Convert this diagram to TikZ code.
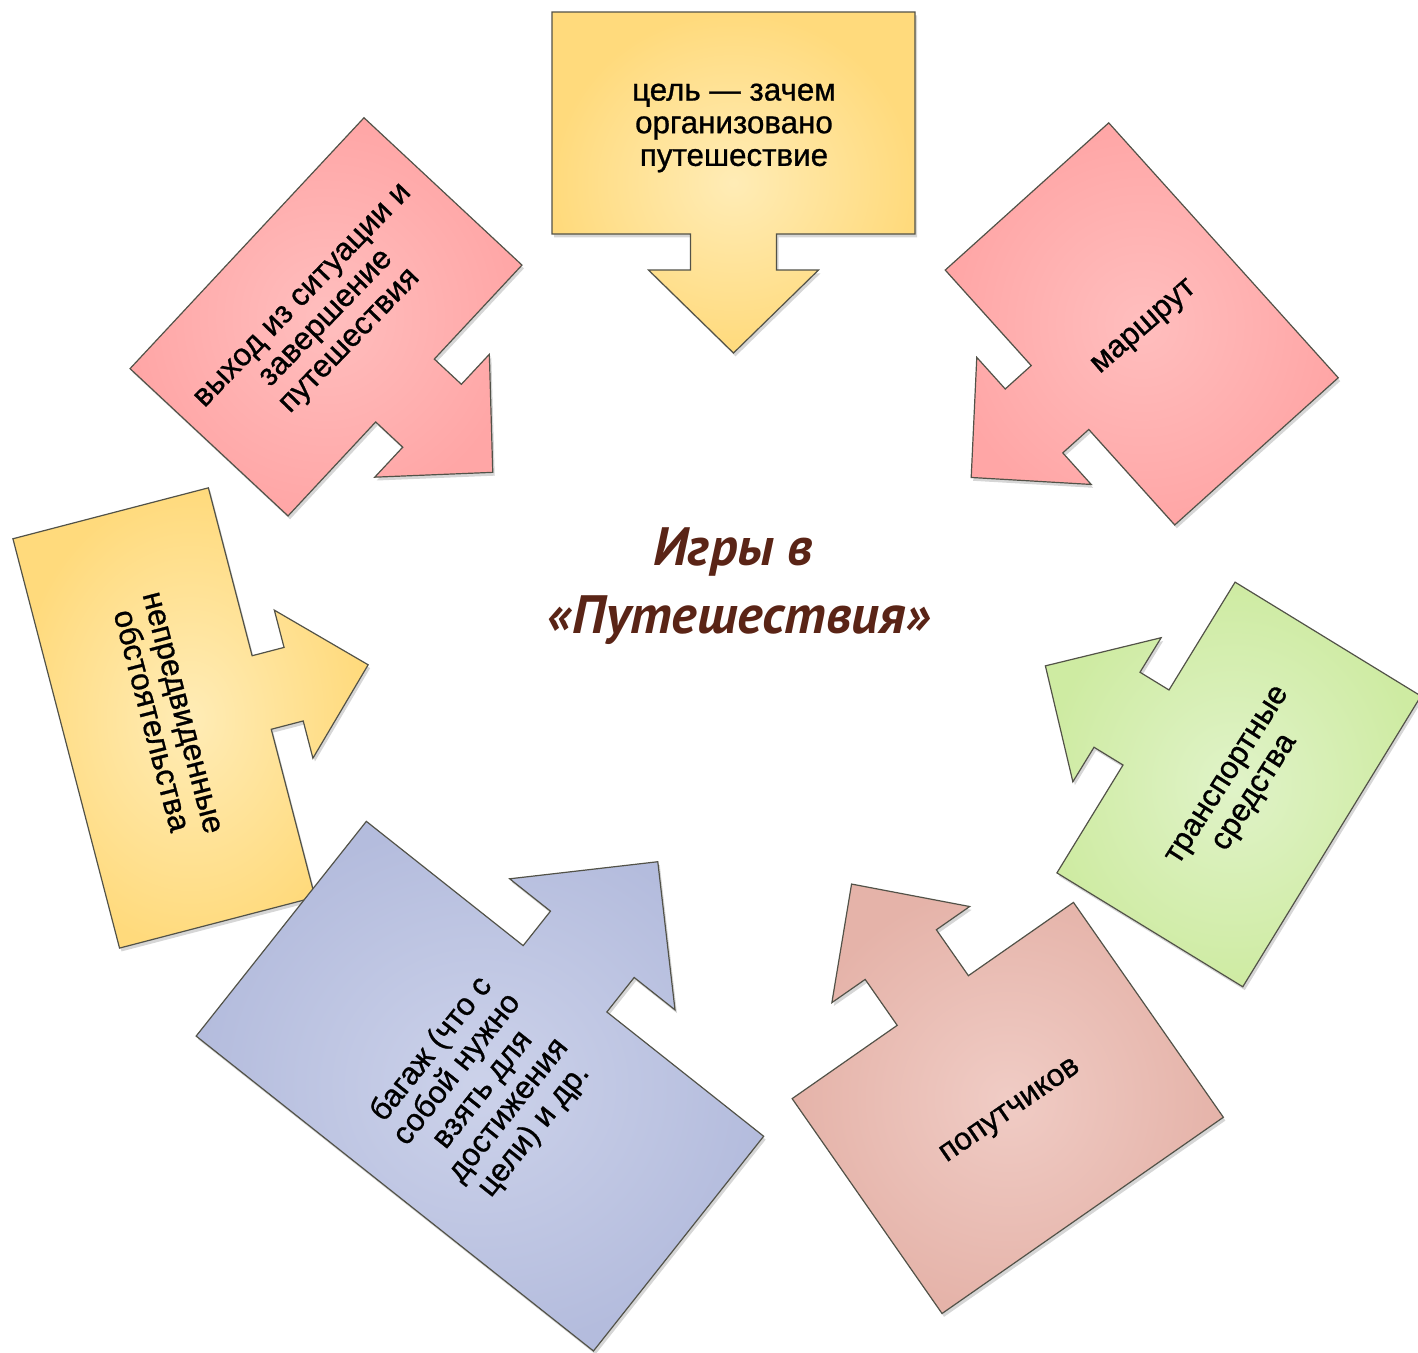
\documentclass[tikz,border=0pt]{standalone}
\usepackage{fontspec}
\setmainfont{Liberation Sans}
\newfontfamily\boxfont{Liberation Sans}[FakeBold=0.9]
\newfontfamily\titlefont{PT Sans}

\definecolor{yellowout}{RGB}{255,218,124}
\definecolor{yellowin}{RGB}{255,236,182}
\definecolor{pinkout}{RGB}{255,166,166}
\definecolor{pinkin}{RGB}{255,190,190}
\definecolor{greenout}{RGB}{206,235,162}
\definecolor{greenin}{RGB}{224,243,200}
\definecolor{blueout}{RGB}{180,188,221}
\definecolor{bluein}{RGB}{204,210,234}
\definecolor{roseout}{RGB}{229,179,169}
\definecolor{rosein}{RGB}{240,204,197}
\definecolor{titlebrown}{RGB}{90,36,22}

\tikzset{every picture/.style={line width=0.75pt}}
\tikzset{
  callout/.style={draw={rgb,255:red,82;green,82;blue,72}, line width=0.9pt, line join=miter,
    preaction={fill=black, fill opacity=0.16, draw=none, transform canvas={shift={(1.5pt,-2.5pt)}}}},
  boxtext/.style={align=center, inner sep=0pt, font=\boxfont\fontsize{23.5}{24.5}\selectfont},
  titletext/.style={anchor=base, inner sep=0pt, text=titlebrown, font=\titlefont\bfseries\itshape\fontsize{40.5}{44}\selectfont}
}

\begin{document}
\begin{tikzpicture}[x=0.75pt,y=0.75pt,yscale=-1,xscale=1]
%uncomment if require: \path (0,1353); %set diagram left start at 0, and has height of 1353
\useasboundingbox (0,0) rectangle (1418,1353);

%Shape: Down Arrow Callout [goal]
\begin{scope}[shift={(733.5,234)}, rotate=0]
\draw [callout, inner color=yellowin, outer color=yellowout] (-181.5,-222) -- (181.5,-222) -- (181.5,0) -- (43,0) -- (43,36) -- (85,36) -- (0,119) -- (-85,36) -- (-43,36) -- (-43,0) -- (-181.5,0) -- cycle ;
\end{scope}
%Shape: Down Arrow Callout [exit]
\begin{scope}[shift={(405,390.5)}, rotate=-47]
\draw [callout, inner color=pinkin, outer color=pinkout] (-171.5,-216) -- (171.5,-216) -- (171.5,0) -- (43,0) -- (43,37) -- (84,37) -- (0,120) -- (-84,37) -- (-43,37) -- (-43,0) -- (-171.5,0) -- cycle ;
\end{scope}
%Shape: Down Arrow Callout [route]
\begin{scope}[shift={(1060,397.5)}, rotate=48]
\draw [callout, inner color=pinkin, outer color=pinkout] (-171.5,-220) -- (171.5,-220) -- (171.5,0) -- (43,0) -- (43,35) -- (85.5,35) -- (0,119.5) -- (-85.5,35) -- (-43,35) -- (-43,0) -- (-171.5,0) -- cycle ;
\end{scope}
%Shape: Down Arrow Callout [transport]
\begin{scope}[shift={(1146,727.5)}, rotate=121.5]
\draw [callout, inner color=greenin, outer color=greenout] (-170.5,-218) -- (170.5,-218) -- (170.5,0) -- (44,0) -- (44,34) -- (84.5,34) -- (0,118) -- (-84.5,34) -- (-44,34) -- (-44,0) -- (-170.5,0) -- cycle ;
\end{scope}
%Shape: Down Arrow Callout [events]
\begin{scope}[shift={(261.7,692.5)}, rotate=-104.6]
\draw [callout, inner color=yellowin, outer color=yellowout] (-211.5,-202) -- (211.5,-202) -- (211.5,0) -- (38,0) -- (38,33) -- (76.5,33) -- (0,110) -- (-76.5,33) -- (-38,33) -- (-38,0) -- (-211.5,0) -- cycle ;
\end{scope}
%Shape: Down Arrow Callout [baggage]
\begin{scope}[shift={(565,978.8)}, rotate=-141.6]
\draw [callout, inner color=bluein, outer color=blueout] (-253.5,-274) -- (253.5,-274) -- (253.5,0) -- (53.4,0) -- (53.4,44) -- (105.5,44) -- (0,149.4) -- (-105.5,44) -- (-53.4,44) -- (-53.4,0) -- (-253.5,0) -- cycle ;
\end{scope}
%Shape: Down Arrow Callout [companions]
\begin{scope}[shift={(932.8,1000.5)}, rotate=145.1]
\draw [callout, inner color=rosein, outer color=roseout] (-171.5,-262) -- (171.5,-262) -- (171.5,0) -- (43.4,0) -- (43.4,56) -- (84,56) -- (0,142) -- (-84,56) -- (-43.4,56) -- (-43.4,0) -- (-171.5,0) -- cycle ;
\end{scope}

% Text Node
\draw (734,128) node [boxtext] (goal) {цель — зачем\\организовано\\путешествие};
% Text Node
\draw (328,320) node [boxtext, rotate=46] (exit) {выход из ситуации и\\завершение\\путешествия};
% Text Node
\draw (1145,328) node [boxtext, rotate=41] (route) {маршрут};
% Text Node
\draw (1243,785) node [boxtext, rotate=57.5] (transport) {транспортные\\средства};
% Text Node
\draw (166,717) node [boxtext, rotate=-75.4] (events) {непредвиденные\\обстоятельства};
% Text Node
\draw (483,1090) node [boxtext, rotate=51.5] (baggage) {багаж (что с\\собой нужно\\взять для\\достижения\\цели) и др.};
% Text Node
\draw (1011,1112) node [boxtext, rotate=34.5] (companions) {попутчиков};
% Text Node
\draw (733,565) node [titletext] (title) {Игры в};
% Text Node
\draw (739,633) node [titletext] (titlesub) {«Путешествия»};

\end{tikzpicture}
\end{document}
